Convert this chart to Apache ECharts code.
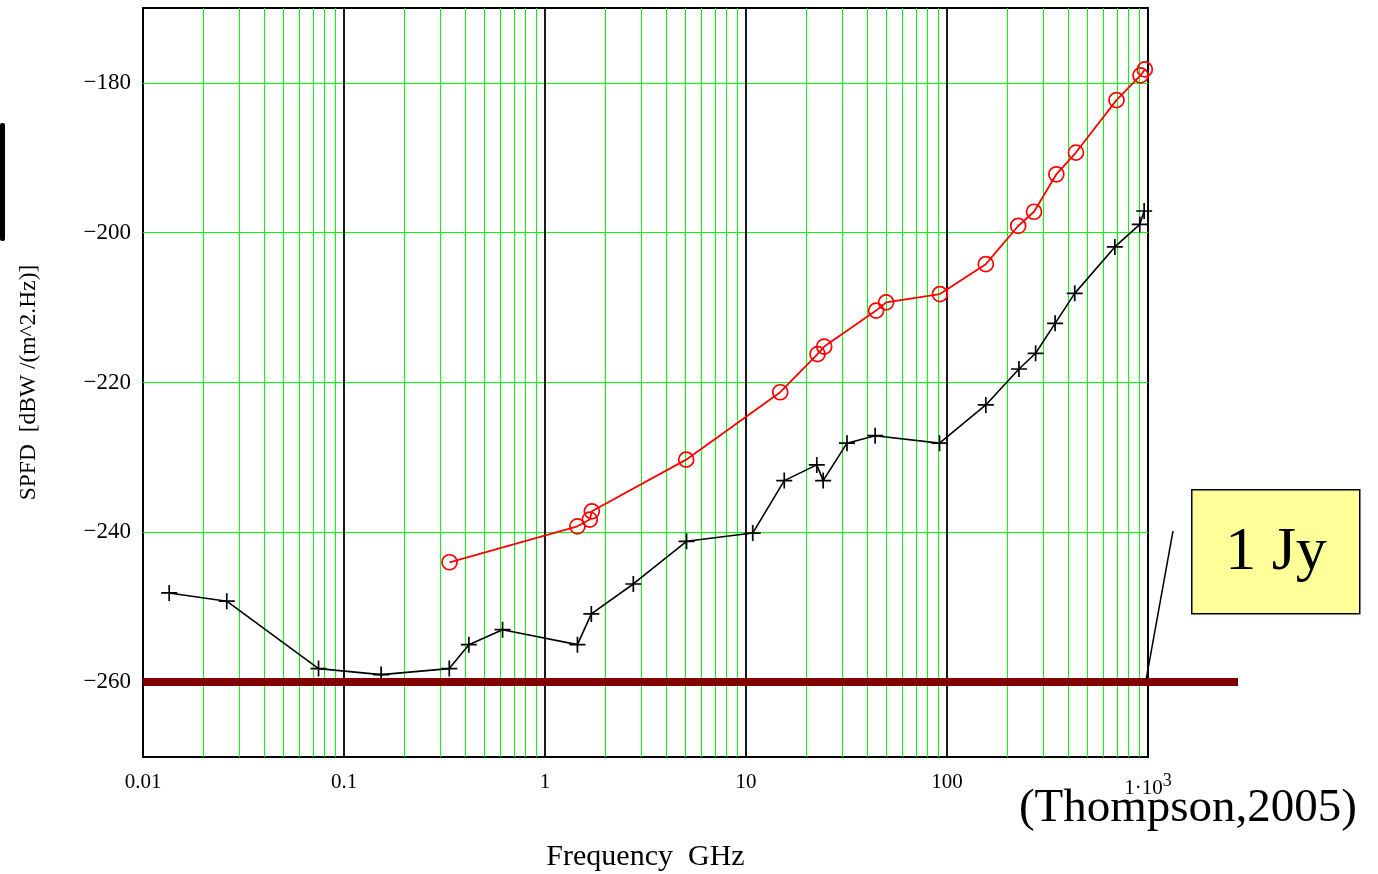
<!DOCTYPE html>
<html>
<head>
<meta charset="utf-8">
<title>SPFD vs Frequency</title>
<script src="https://cdn.jsdelivr.net/npm/echarts@6/dist/echarts.min.js"></script>
<style>
  html, body { margin: 0; padding: 0; background: #fff; }
  #chart { width: 1378px; height: 874px; }
</style>
</head>
<body>
<div id="chart"></div>
<script>
// Frequencies (GHz) and spectral power flux density (dBW / (m^2 Hz))
const lowerFreq = [0.0135, 0.0261, 0.0747, 0.153, 0.334, 0.418, 0.615, 1.45, 1.70, 2.75, 5.06, 10.8,
  15.5, 22.5, 24.2, 31.8, 43.9, 91.8, 156, 228, 276, 345, 432, 684, 910, 957];
const lowerSpfd = [-248.1, -249.2, -258.2, -259.0, -258.2, -255.0, -253.0, -255.0, -250.9, -246.9, -241.2, -240.1,
  -233.1, -231.0, -233.1, -228.1, -227.1, -228.1, -223.0, -218.2, -216.1, -212.1, -208.1, -201.9, -198.9, -197.1];

const upperFreq = [0.335, 1.45, 1.67, 1.71, 5.04, 14.8, 22.7, 24.5, 44.4, 49.8, 92.2, 156, 226, 271,
  350, 438, 697, 918, 964];
const upperSpfd = [-244.0, -239.2, -238.3, -237.2, -230.3, -221.3, -216.2, -215.2, -210.4, -209.3, -208.2, -204.2,
  -199.1, -197.2, -192.2, -189.3, -182.3, -179.0, -178.2];

// 1 Jy = 1e-26 W m^-2 Hz^-1 = -260 dBW
const jyLevel = -260;
const jyLineFreqs = [0.01, 1000];

// Axis ticks
const xTickValues = [0.01, 0.1, 1, 10, 100, 1000];
const xTickLabels = ['0.01', '0.1', '1', '10', '100', '{m|1\u00b710}{s|3}'];
const yTickValues = [-260, -240, -220, -200, -180];
const yTickLabels = ['\u2212260', '\u2212240', '\u2212220', '\u2212200', '\u2212180'];

// Grid lines: decades in black, 2..9 subdivisions in green
const decadeLines = [0.1, 1, 10, 100];
const minorLines = [];
[0.01, 0.1, 1, 10, 100].forEach(d => {
  for (let m = 2; m <= 9; m++) minorLines.push(+(m * d).toPrecision(3));
});

const serif = '"Liberation Serif", "DejaVu Serif", serif';
const plusPath = 'path://M5,0L5,10M0,5L10,5';

// the 1 Jy bar continues past the right edge of the plot up to this x (px)
const jyBarEndPx = 1238;

const chart = echarts.init(document.getElementById('chart'));

chart.setOption({
  animation: false,
  backgroundColor: '#ffffff',
  grid: {
    left: 143, top: 8, width: 1005, height: 749,
    outerBoundsMode: 'none', containLabel: false,
    show: true, borderColor: '#000', borderWidth: 2, backgroundColor: 'transparent'
  },
  xAxis: {
    type: 'log', logBase: 10, min: 0.01, max: 1000,
    name: 'Frequency  GHz', nameLocation: 'middle', nameGap: 85,
    nameTextStyle: { fontFamily: serif, fontSize: 30, color: '#000' },
    axisLine: { show: false }, axisTick: { show: false },
    splitLine: { show: false }, minorSplitLine: { show: false },
    axisLabel: {
      showMinLabel: true, showMaxLabel: true, margin: 15,
      fontFamily: serif, fontSize: 21, color: '#000',
      formatter: v => {
        const i = xTickValues.findIndex(t => Math.abs(Math.log10(t) - Math.log10(v)) < 1e-6);
        return i >= 0 ? xTickLabels[i] : '';
      },
      rich: {
        m: { fontFamily: serif, fontSize: 21, color: '#000' },
        s: { fontFamily: serif, fontSize: 18, color: '#000', padding: [0, 0, 14, 0] }
      }
    }
  },
  yAxis: {
    type: 'value', min: -270, max: -170, interval: 10,
    name: 'SPFD  [dBW /(m^2.Hz)]', nameLocation: 'middle', nameGap: 102, nameRotate: 90,
    nameTextStyle: { fontFamily: serif, fontSize: 23.5, color: '#000' },
    axisLine: { show: false }, axisTick: { show: false }, splitLine: { show: false },
    axisLabel: {
      margin: 12, fontFamily: serif, fontSize: 23, color: '#000',
      formatter: v => {
        const i = yTickValues.indexOf(Math.round(v));
        return i >= 0 ? yTickLabels[i] : '';
      }
    }
  },
  series: [
    {
      name: 'minor grid', type: 'line', data: [], z: 1, silent: true,
      markLine: {
        z: 1, silent: true, symbol: 'none', animation: false,
        label: { show: false },
        lineStyle: { color: '#00ff00', width: 1, type: 'solid' },
        emphasis: { disabled: true },
        data: minorLines.map(f => ({ xAxis: f })).concat(yTickValues.map(v => ({ yAxis: v })))
      }
    },
    {
      name: 'decade grid', type: 'line', data: [], z: 2, silent: true,
      markLine: {
        z: 2, silent: true, symbol: 'none', animation: false,
        label: { show: false },
        lineStyle: { color: '#000', width: 1.8, type: 'solid' },
        emphasis: { disabled: true },
        data: decadeLines.map(f => ({ xAxis: f }))
      }
    },
    {
      name: 'lower', type: 'line', z: 3,
      data: lowerFreq.map((f, i) => [f, lowerSpfd[i]]),
      symbol: plusPath, symbolSize: 16,
      itemStyle: { color: 'rgba(0,0,0,0)', borderColor: '#000', borderWidth: 1.7 },
      lineStyle: { color: '#000', width: 1.6 }
    },
    {
      name: 'upper', type: 'line', z: 3,
      data: upperFreq.map((f, i) => [f, upperSpfd[i]]),
      symbol: 'circle', symbolSize: 15,
      itemStyle: { color: 'rgba(0,0,0,0)', borderColor: '#ff0000', borderWidth: 1.7 },
      lineStyle: { color: '#ff0000', width: 1.8 }
    },
    {
      name: '1 Jy', type: 'line', z: 4, clip: false,
      data: jyLineFreqs.map(f => [f, jyLevel]),
      symbol: 'none',
      lineStyle: { color: '#800000', width: 8, cap: 'butt' }
    }
  ]
});

// Annotations; the bar's overhang and the pointer are placed on the 1 Jy level
const jyY = chart.convertToPixel({ yAxisIndex: 0 }, jyLevel);
const plotRight = chart.convertToPixel({ xAxisIndex: 0 }, 1000);

chart.setOption({
  graphic: [
    {
      type: 'rect', left: 0, top: 123, z: 10,
      shape: { width: 5, height: 118, r: 2 },
      style: { fill: '#000' }
    },
    {
      type: 'line', z: 10,
      shape: { x1: plotRight - 2, y1: jyY, x2: jyBarEndPx, y2: jyY },
      style: { stroke: '#800000', lineWidth: 8 }
    },
    {
      type: 'line', z: 11,
      shape: { x1: 1173, y1: 531, x2: plotRight - 2, y2: jyY - 2 },
      style: { stroke: '#000', lineWidth: 1.5 }
    },
    {
      type: 'rect', left: 1191, top: 489, z: 10,
      shape: { width: 168, height: 124 },
      style: { fill: '#ffff99', stroke: '#000', lineWidth: 1.5 }
    },
    {
      type: 'text', x: 1276, y: 553, z: 11,
      style: {
        text: '1 Jy', fontFamily: serif, fontSize: 62, fill: '#000',
        textAlign: 'center', textVerticalAlign: 'middle'
      }
    },
    {
      type: 'text', x: 1357, y: 809, z: 11,
      style: {
        text: '(Thompson,2005)', fontFamily: serif, fontSize: 47, fill: '#000',
        textAlign: 'right', textVerticalAlign: 'middle'
      }
    }
  ]
});
</script>
</body>
</html>
